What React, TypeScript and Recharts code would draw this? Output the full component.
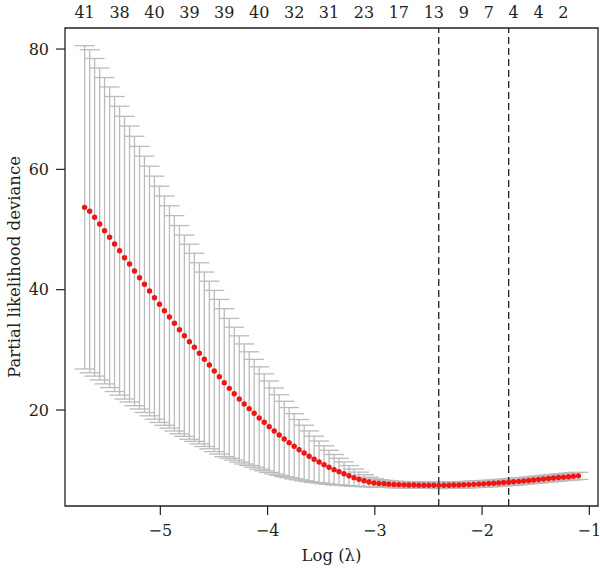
import React from "react";
import {
  ComposedChart,
  Scatter,
  ErrorBar,
  XAxis,
  YAxis,
  ReferenceLine,
  ReferenceArea,
  Label,
} from "recharts";

// log(lambda) path, smallest lambda first
const logLambda = [
  -5.706, -5.659, -5.613, -5.566, -5.52, -5.473, -5.427, -5.38, -5.334, -5.287,
  -5.241, -5.194, -5.148, -5.101, -5.055, -5.008, -4.962, -4.915, -4.869, -4.822,
  -4.776, -4.729, -4.683, -4.636, -4.59, -4.543, -4.497, -4.45, -4.404, -4.357,
  -4.311, -4.264, -4.218, -4.171, -4.125, -4.078, -4.031, -3.985, -3.938, -3.892,
  -3.845, -3.799, -3.752, -3.706, -3.659, -3.613, -3.566, -3.52, -3.473, -3.427,
  -3.38, -3.334, -3.287, -3.241, -3.194, -3.148, -3.101, -3.055, -3.008, -2.962,
  -2.915, -2.869, -2.822, -2.776, -2.729, -2.683, -2.636, -2.59, -2.543, -2.497,
  -2.45, -2.404, -2.357, -2.31, -2.264, -2.217, -2.171, -2.124, -2.078, -2.031,
  -1.985, -1.938, -1.892, -1.845, -1.799, -1.752, -1.706, -1.659, -1.613, -1.566,
  -1.52, -1.473, -1.427, -1.38, -1.334, -1.287, -1.241, -1.194, -1.148, -1.101,
];

// mean cross-validated partial likelihood deviance
const cvm = [
  53.69, 53.03, 52.03, 50.92, 49.8, 48.71, 47.59, 46.48, 45.32, 44.27,
  43.11, 41.99, 40.89, 39.78, 38.67, 37.57, 36.51, 35.46, 34.41, 33.35,
  32.35, 31.35, 30.42, 29.42, 28.43, 27.48, 26.48, 25.52, 24.54, 23.6,
  22.71, 21.83, 21.0, 20.22, 19.45, 18.67, 17.95, 17.23, 16.51, 15.84,
  15.18, 14.57, 13.97, 13.4, 12.85, 12.3, 11.8, 11.36, 10.91, 10.48,
  10.08, 9.75, 9.41, 9.08, 8.75, 8.48, 8.25, 8.03, 7.88, 7.8,
  7.73, 7.67, 7.62, 7.59, 7.56, 7.54, 7.52, 7.51, 7.5, 7.49,
  7.48, 7.47, 7.48, 7.5, 7.52, 7.54, 7.57, 7.6, 7.64, 7.68,
  7.72, 7.77, 7.82, 7.88, 7.94, 8.0, 8.07, 8.14, 8.21, 8.29,
  8.37, 8.45, 8.53, 8.61, 8.69, 8.77, 8.84, 8.91, 8.98, 9.05,
];

// standard error of cvm
const cvsd = [
  26.87, 26.85, 26.4, 25.93, 25.46, 24.99, 24.52, 24.02, 23.5, 22.94,
  22.39, 21.83, 21.3, 20.75, 20.2, 19.64, 19.06, 18.48, 17.9, 17.31,
  16.73, 16.21, 15.63, 15.05, 14.5, 13.93, 13.4, 12.86, 12.3, 11.62,
  11.05, 10.5, 9.98, 9.45, 8.96, 8.5, 8.05, 7.6, 7.15, 6.7,
  6.27, 5.84, 5.42, 5.01, 4.62, 4.22, 3.85, 3.48, 3.14, 2.82,
  2.52, 2.22, 1.95, 1.68, 1.43, 1.19, 0.98, 0.8, 0.68, 0.62,
  0.58, 0.55, 0.54, 0.53, 0.52, 0.52, 0.52, 0.52, 0.52, 0.52,
  0.52, 0.53, 0.53, 0.53, 0.53, 0.53, 0.54, 0.54, 0.54, 0.54,
  0.55, 0.55, 0.55, 0.55, 0.55, 0.56, 0.56, 0.56, 0.56, 0.57,
  0.57, 0.57, 0.57, 0.58, 0.58, 0.58, 0.58, 0.59, 0.59, 0.59,
];

// non-zero coefficient counts printed along the top, at these path positions
const nzeroAt = [0, 7, 14, 21, 28, 35, 42, 49, 56, 63, 70, 76, 81, 86, 91, 96];
const nzeroLabels = [41, 38, 40, 39, 39, 40, 32, 31, 23, 17, 13, 9, 7, 4, 4, 2];

const xTicks = [-5, -4, -3, -2, -1];
const yTicks = [20, 40, 60, 80];

// lambda.min and lambda.1se
const logLambdaMin = -2.404;
const logLambda1se = -1.752;

const X_DOMAIN: [number, number] = [-5.889, -0.919];
const Y_DOMAIN: [number, number] = [4.04, 83.5];

const FONT = "'DejaVu Serif', serif";
const INK = "#231f20";
const BAR_GREY = "#bbbbbb";
const DOT_RED = "#ee1515";

const rows = logLambda.map((x, i) => ({ x, cvm: cvm[i], sd: cvsd[i] }));
const topTicks = nzeroAt.map((i) => logLambda[i]);

const minus = (v: number) => (v < 0 ? `\u2212${Math.abs(v)}` : `${v}`);

const tickStyle = { fill: INK, fontSize: 16, fontFamily: FONT };

const RedDot = (props: any) => (
  <circle cx={props.cx} cy={props.cy} r={2.7} fill={DOT_RED} />
);

const YTitle = (props: any) => {
  const vb = props.viewBox;
  const cx = vb.x + 12;
  const cy = vb.y + vb.height / 2;
  return (
    <text
      x={cx}
      y={cy}
      transform={`rotate(-90 ${cx} ${cy})`}
      textAnchor="middle"
      fill={INK}
      fontSize={16.5}
      fontFamily={FONT}
    >
      Partial likelihood deviance
    </text>
  );
};

export default function App() {
  return (
    <div style={{ position: "absolute", left: 0, top: 0, background: "#fff" }}>
      <ComposedChart
        width={600}
        height={571}
        data={rows}
        margin={{ top: 0, right: 2, bottom: 0, left: 8 }}
      >
        <XAxis
          xAxisId="bottom"
          dataKey="x"
          type="number"
          orientation="bottom"
          domain={X_DOMAIN}
          ticks={xTicks}
          interval={0}
          allowDataOverflow
          height={65}
          axisLine={false}
          tickLine={{ stroke: INK, strokeWidth: 1.2 }}
          tickSize={9}
          tickMargin={10}
          tick={tickStyle}
          tickFormatter={minus}
        >
          <Label
            value="Log (λ)"
            position="insideBottom"
            offset={10}
            fill={INK}
            fontSize={16.5}
            fontFamily={FONT}
          />
        </XAxis>
        <XAxis
          xAxisId="top"
          dataKey="x"
          type="number"
          orientation="top"
          domain={X_DOMAIN}
          ticks={topTicks}
          interval={0}
          allowDataOverflow
          height={28}
          axisLine={false}
          tickLine={false}
          tickSize={0}
          tickMargin={10}
          tick={tickStyle}
          tickFormatter={(v: number) => `${nzeroLabels[topTicks.indexOf(v)]}`}
        />
        <YAxis
          yAxisId="y"
          type="number"
          domain={Y_DOMAIN}
          ticks={yTicks}
          interval={0}
          allowDataOverflow
          width={57}
          axisLine={false}
          tickLine={{ stroke: INK, strokeWidth: 1.2 }}
          tickSize={9}
          tickMargin={7}
          tick={tickStyle}
        >
          <Label content={YTitle} />
        </YAxis>
        <ReferenceArea
          xAxisId="bottom"
          yAxisId="y"
          x1={X_DOMAIN[0]}
          x2={X_DOMAIN[1]}
          y1={Y_DOMAIN[0]}
          y2={Y_DOMAIN[1]}
          fill="none"
          fillOpacity={0}
          stroke={INK}
          strokeWidth={1.3}
        />
        <Scatter
          xAxisId="bottom"
          yAxisId="y"
          dataKey="cvm"
          isAnimationActive={false}
          shape={RedDot}
        >
          <ErrorBar
            dataKey="sd"
            direction="y"
            width={10}
            stroke={BAR_GREY}
            strokeWidth={1.3}
            isAnimationActive={false}
          />
        </Scatter>
        <ReferenceLine
          xAxisId="bottom"
          yAxisId="y"
          x={logLambdaMin}
          stroke={INK}
          strokeWidth={1.3}
          strokeDasharray="7 4"
        />
        <ReferenceLine
          xAxisId="bottom"
          yAxisId="y"
          x={logLambda1se}
          stroke={INK}
          strokeWidth={1.3}
          strokeDasharray="7 4"
        />
      </ComposedChart>
    </div>
  );
}
